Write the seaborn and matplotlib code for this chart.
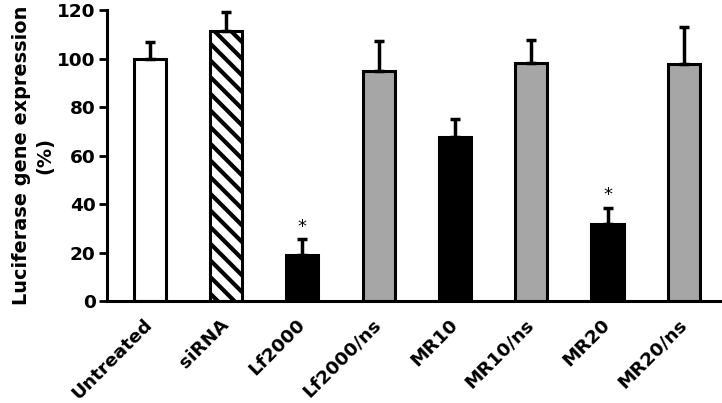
import matplotlib
matplotlib.use("Agg")
import matplotlib.pyplot as plt
import seaborn as sns
import numpy as np
import pandas as pd

categories = ["Untreated", "siRNA", "Lf2000", "Lf2000/ns", "MR10", "MR10/ns", "MR20", "MR20/ns"]
values = [100, 111.5, 18.8, 95.0, 67.5, 98.2, 31.6, 97.8]
errors = [7.0, 7.8, 6.6, 12.3, 7.6, 9.4, 6.9, 15.2]
colors = ["#FFFFFF", "#FFFFFF", "#000000", "#A6A6A6", "#000000", "#A6A6A6", "#000000", "#A6A6A6"]
significant = [False, False, True, False, False, False, True, False]

sns.set_style("white")
plt.rcParams['font.family'] = ['DejaVu Sans']
plt.rcParams['hatch.linewidth'] = 3.0
for k in ['text.color', 'axes.labelcolor', 'xtick.color', 'ytick.color', 'axes.edgecolor']:
    plt.rcParams[k] = 'black'

FS = 13.3
fig = plt.figure(figsize=(7.22, 4.03), dpi=100)
ax = fig.add_axes([0.148, 0.253, 0.852, 0.722])

df = pd.DataFrame({"cat": categories, "val": values})
sns.barplot(data=df, x="cat", y="val", hue="cat", palette=colors, legend=False,
            width=0.42, edgecolor="black", linewidth=2.2, ax=ax, saturation=1)

for i, p in enumerate(ax.patches[:len(categories)]):
    if categories[i] == "siRNA":
        p.set_hatch("\\\\")

xs = np.arange(len(categories))
ax.errorbar(xs, values, yerr=[np.zeros(len(values)), errors], fmt="none",
            ecolor="black", elinewidth=2.5, capsize=3.5, capthick=2.5, zorder=1)

for x, v, e, s in zip(xs, values, errors, significant):
    if s:
        ax.text(x, v + e + 1.5, "*", ha="center", va="bottom", fontsize=13, color="black")

ax.set_ylim(0, 120)
ax.set_xlim(-0.56, 7.5)
ax.set_yticks([0, 20, 40, 60, 80, 100, 120])
ax.tick_params(axis="y", which="major", direction="out", length=6, width=2, left=True,
               labelsize=FS, pad=2, colors="black")
ax.tick_params(axis="x", length=0, labelsize=FS, pad=15, colors="black")
for lbl in ax.get_yticklabels():
    lbl.set_fontweight("bold")
ax.set_xticks(xs)
ax.set_xticklabels(categories, rotation=45, ha="right", va="center",
                   rotation_mode="anchor", fontweight="bold")
ax.set_xlabel("")
ax.set_ylabel("Luciferase gene expression\n(%)", fontsize=13.9, fontweight="bold", labelpad=2,
              linespacing=1.3, color="black")
for sp in ["top", "right"]:
    ax.spines[sp].set_visible(False)
for sp in ["left", "bottom"]:
    ax.spines[sp].set_linewidth(2.2)
    ax.spines[sp].set_color("black")

fig.savefig("out.png", dpi=100)
